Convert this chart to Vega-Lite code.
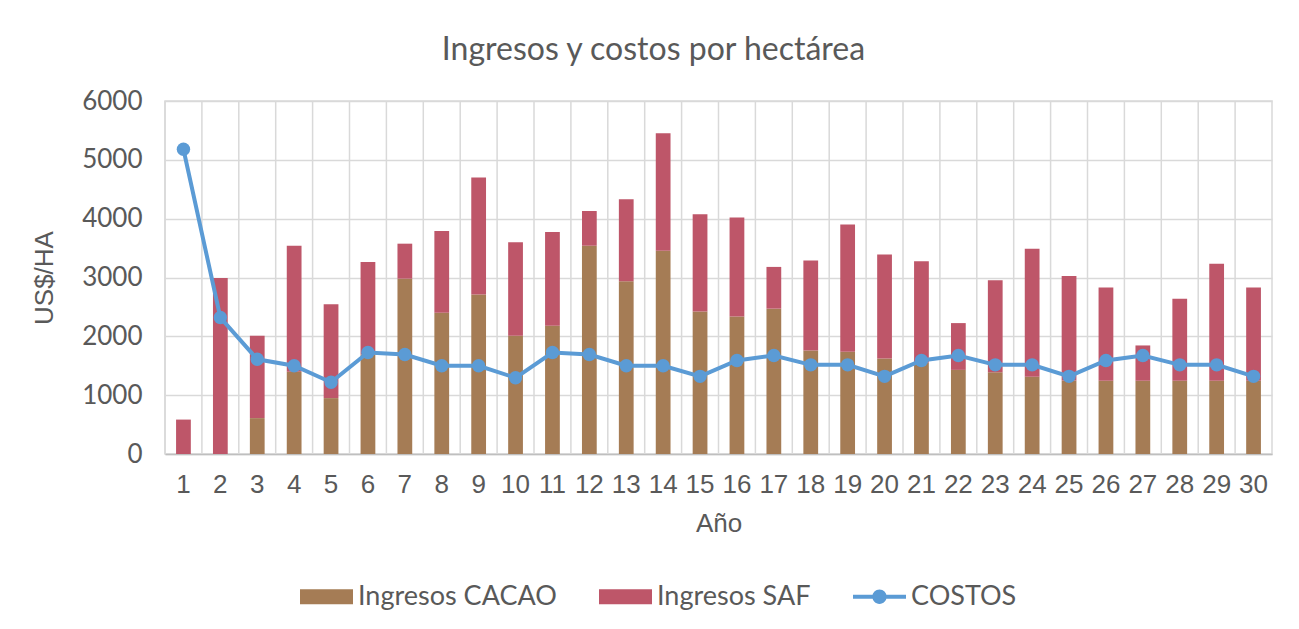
{
  "$schema": "https://vega.github.io/schema/vega-lite/v6.json",
  "autosize": "none",
  "width": 1107,
  "height": 353,
  "padding": {"left": 165, "top": 101, "right": 27, "bottom": 175},
  "background": "white",
  "config": {
    "view": {"stroke": "#d9d9d9", "strokeWidth": 1.5},
    "axis": {"labelColor": "#595959", "titleColor": "#595959"}
  },
  "title": {
    "text": "Ingresos y costos por hectárea",
    "font": "Lato",
    "fontSize": 32,
    "fontWeight": "normal",
    "color": "#595959",
    "anchor": "middle",
    "dx": -65,
    "offset": 21
  },
  "data": {
    "values": [
      {"Año": 1, "Ingresos CACAO": 0, "Ingresos SAF": 585, "COSTOS": 5180},
      {"Año": 2, "Ingresos CACAO": 0, "Ingresos SAF": 2990, "COSTOS": 2320},
      {"Año": 3, "Ingresos CACAO": 610, "Ingresos SAF": 1400, "COSTOS": 1610},
      {"Año": 4, "Ingresos CACAO": 1400, "Ingresos SAF": 2140, "COSTOS": 1500},
      {"Año": 5, "Ingresos CACAO": 950, "Ingresos SAF": 1595, "COSTOS": 1220},
      {"Año": 6, "Ingresos CACAO": 1690, "Ingresos SAF": 1575, "COSTOS": 1725},
      {"Año": 7, "Ingresos CACAO": 2980, "Ingresos SAF": 595, "COSTOS": 1690},
      {"Año": 8, "Ingresos CACAO": 2400, "Ingresos SAF": 1390, "COSTOS": 1500},
      {"Año": 9, "Ingresos CACAO": 2710, "Ingresos SAF": 1990, "COSTOS": 1500},
      {"Año": 10, "Ingresos CACAO": 2010, "Ingresos SAF": 1590, "COSTOS": 1295},
      {"Año": 11, "Ingresos CACAO": 2180, "Ingresos SAF": 1595, "COSTOS": 1725},
      {"Año": 12, "Ingresos CACAO": 3540, "Ingresos SAF": 590, "COSTOS": 1690},
      {"Año": 13, "Ingresos CACAO": 2935, "Ingresos SAF": 1395, "COSTOS": 1500},
      {"Año": 14, "Ingresos CACAO": 3455, "Ingresos SAF": 1995, "COSTOS": 1500},
      {"Año": 15, "Ingresos CACAO": 2420, "Ingresos SAF": 1655, "COSTOS": 1320},
      {"Año": 16, "Ingresos CACAO": 2335, "Ingresos SAF": 1685, "COSTOS": 1590},
      {"Año": 17, "Ingresos CACAO": 2470, "Ingresos SAF": 710, "COSTOS": 1675},
      {"Año": 18, "Ingresos CACAO": 1760, "Ingresos SAF": 1530, "COSTOS": 1515},
      {"Año": 19, "Ingresos CACAO": 1740, "Ingresos SAF": 2160, "COSTOS": 1515},
      {"Año": 20, "Ingresos CACAO": 1625, "Ingresos SAF": 1765, "COSTOS": 1320},
      {"Año": 21, "Ingresos CACAO": 1550, "Ingresos SAF": 1725, "COSTOS": 1590},
      {"Año": 22, "Ingresos CACAO": 1430, "Ingresos SAF": 795, "COSTOS": 1675},
      {"Año": 23, "Ingresos CACAO": 1390, "Ingresos SAF": 1565, "COSTOS": 1515},
      {"Año": 24, "Ingresos CACAO": 1315, "Ingresos SAF": 2175, "COSTOS": 1515},
      {"Año": 25, "Ingresos CACAO": 1250, "Ingresos SAF": 1775, "COSTOS": 1320},
      {"Año": 26, "Ingresos CACAO": 1245, "Ingresos SAF": 1585, "COSTOS": 1590},
      {"Año": 27, "Ingresos CACAO": 1245, "Ingresos SAF": 600, "COSTOS": 1675},
      {"Año": 28, "Ingresos CACAO": 1245, "Ingresos SAF": 1395, "COSTOS": 1515},
      {"Año": 29, "Ingresos CACAO": 1245, "Ingresos SAF": 1990, "COSTOS": 1515},
      {"Año": 30, "Ingresos CACAO": 1245, "Ingresos SAF": 1585, "COSTOS": 1320}
    ]
  },
  "layer": [
    {
      "mark": {"type": "rule", "color": "#d9d9d9", "strokeWidth": 1.5},
      "encoding": {
        "x": {"field": "Año", "type": "ordinal", "bandPosition": 0, "scale": {"paddingInner": 0, "paddingOuter": 0}, "axis": null}
      }
    },
    {
      "layer": [
        {
          "transform": [{"fold": ["Ingresos CACAO", "Ingresos SAF"], "as": ["serie", "valor"]}],
          "mark": {"type": "bar"},
          "encoding": {
            "x": {
              "field": "Año", "type": "ordinal",
              "scale": {"paddingInner": 0.6, "paddingOuter": 0.3},
              "axis": {
                "title": "Año", "labelAngle": 0, "labelFont": "Liberation Sans", "labelFontSize": 26,
                "labelPadding": 17, "ticks": false, "grid": false,
                "domainColor": "#bfbfbf", "domainWidth": 1.5,
                "titleFont": "Liberation Sans", "titleFontSize": 26, "titleFontWeight": "normal", "titlePadding": 13
              }
            },
            "y": {
              "field": "valor", "type": "quantitative", "stack": "zero",
              "scale": {"domain": [0, 6000]},
              "axis": {
                "title": "US$/HA", "values": [0, 1000, 2000, 3000, 4000, 5000, 6000], "format": "d",
                "labelFont": "Lato", "labelFontSize": 26, "labelPadding": 23, "ticks": false, "domain": false,
                "grid": true, "gridColor": "#d9d9d9", "gridWidth": 1.5,
                "titleFont": "Liberation Sans", "titleFontSize": 26, "titleFontWeight": "normal", "titlePadding": 24
              }
            },
            "order": {"field": "serie", "sort": "ascending"},
            "color": {
              "field": "serie", "type": "nominal",
              "scale": {"domain": ["Ingresos CACAO", "Ingresos SAF", "COSTOS"], "range": ["#a57c55", "#be5669", "#5b9bd5"]},
              "legend": {
                "title": null, "orient": "none", "direction": "horizontal", "legendX": 135, "legendY": 469,
                "labelFont": "Lato", "labelFontSize": 27, "labelColor": "#595959", "labelOffset": 5, "labelLimit": 0,
                "columnPadding": 42, "symbolSize": 2809, "symbolStrokeWidth": 0,
                "encode": {
                  "symbols": {
                    "update": {
                      "shape": {"signal": "datum.value === 'COSTOS' ? 'M-1,-0.075H1V0.075H-1Z M0.27,0A0.27,0.27 0 1,1 -0.27,0A0.27,0.27 0 1,1 0.27,0Z' : 'M-1,-0.283H1V0.283H-1Z'"},
                      "fill": {"signal": "datum.value === 'COSTOS' ? '#5b9bd5' : datum.value === 'Ingresos SAF' ? '#be5669' : '#a57c55'"},
                      "stroke": {"value": "transparent"},
                      "opacity": {"value": 1}
                    }
                  }
                }
              }
            }
          }
        },
        {
          "mark": {"type": "line", "strokeWidth": 4, "point": {"size": 180, "filled": true, "opacity": 1}},
          "encoding": {
            "x": {"field": "Año", "type": "ordinal", "scale": {"paddingInner": 0.6, "paddingOuter": 0.3}},
            "y": {"field": "COSTOS", "type": "quantitative"},
            "color": {"datum": "COSTOS"}
          }
        }
      ]
    }
  ],
  "resolve": {"scale": {"x": "independent"}}
}
